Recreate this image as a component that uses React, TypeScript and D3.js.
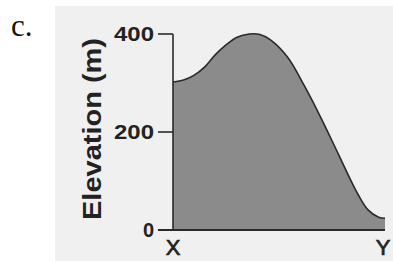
import React from "react";
import * as d3 from "d3";

// distance along the profile from X (0) to Y (100)
const distance = [0, 5, 10, 15, 20, 25, 30, 36, 41, 46, 54, 62, 70, 78, 86, 92, 97, 100];
// elevation in metres
const elevation = [302, 306, 316, 333, 358, 378, 393, 400, 399, 388, 353, 294, 227, 155, 83, 41, 26, 24];
const yTicks = [0, 200, 400];
const endLabels = ["X", "Y"];

const W = 393;
const H = 261;

const App = () => {
  const x = d3.scaleLinear().domain([0, 100]).range([173, 385]);
  const y = d3.scaleLinear().domain([0, 400]).range([230, 34]);
  const pts = distance.map((d, i) => ({ d, e: elevation[i] }));

  const curve = d3.curveCatmullRom.alpha(0.5);
  const area = d3
    .area<{ d: number; e: number }>()
    .x(p => x(p.d))
    .y0(y(0))
    .y1(p => y(p.e))
    .curve(curve);
  const line = d3
    .line<{ d: number; e: number }>()
    .x(p => x(p.d))
    .y(p => y(p.e))
    .curve(curve);

  const x0 = x.range()[0];

  return (
    <svg width={W} height={H} style={{ position: "absolute", left: 0, top: 0 }}>
      <rect width={W} height={H} fill="#ffffff" />
      <rect x={55} y={6} width={W - 55} height={H - 6} fill="#f0f0f0" />
      <text x={11} y={36} fontFamily="Liberation Serif, serif" fontSize={31} fill="#111">
        c.
      </text>

      <path d={area(pts) || ""} fill="#8b8b8b" />
      <path d={line(pts) || ""} fill="none" stroke="#2a2a2a" strokeWidth={1.6} />

      {/* y axis */}
      <line x1={x0} x2={x0} y1={y(400)} y2={y(0)} stroke="#2a2a2a" strokeWidth={1.6} />
      <line x1={158} x2={x(100)} y1={y(0)} y2={y(0)} stroke="#2a2a2a" strokeWidth={1.8} />
      {yTicks.map(t => (
        <g key={t}>
          <line x1={158} x2={x0} y1={y(t)} y2={y(t)} stroke="#2a2a2a" strokeWidth={1.6} />
          <text
            x={154}
            y={y(t) + 7}
            textAnchor="end"
            fontFamily="Liberation Sans, Arial, sans-serif"
            fontSize={20}
            fontWeight="bold"
            fill="#222"
            {...(t > 0 ? { textLength: 40, lengthAdjust: "spacingAndGlyphs" } : {})}
          >
            {t}
          </text>
        </g>
      ))}

      <text
        transform={`translate(101, 129) rotate(-90)`}
        textAnchor="middle"
        fontFamily="Liberation Sans, Arial, sans-serif"
        fontWeight="bold"
        fontSize={25}
        fill="#222"
        textLength={182}
        lengthAdjust="spacingAndGlyphs"
      >
        Elevation (m)
      </text>

      {endLabels.map((l, i) => (
        <text
          key={l}
          x={i === 0 ? x(0) : x(100) - 2}
          y={255}
          textAnchor="middle"
          fontFamily="Liberation Sans, Arial, sans-serif"
          fontSize={22}
          fill="#222"
          stroke="#222"
          strokeWidth={0.7}
        >
          {l}
        </text>
      ))}
    </svg>
  );
};

export default App;
